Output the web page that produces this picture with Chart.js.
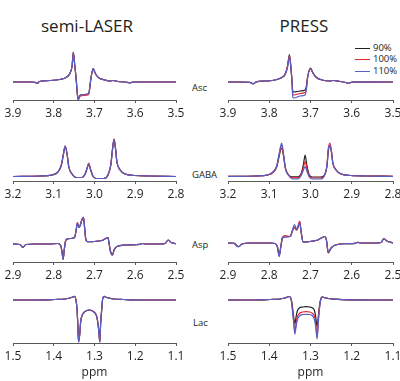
<!DOCTYPE html>
<html>
<head>
<meta charset="utf-8">
<script src="https://cdn.jsdelivr.net/npm/chart.js@4.4.1/dist/chart.umd.min.js"></script>
<style>
  html, body { margin: 0; padding: 0; background: #fff; }
  body { position: relative; width: 400px; height: 381px; overflow: hidden; font-family: 'Open Sans', sans-serif; color: #231f20; }
  canvas { position: absolute; }
  .title { position: absolute; font-size: 17px; line-height: 17px; transform: translateX(-50%); white-space: nowrap; }
  .met { position: absolute; font-size: 9.5px; line-height: 10px; white-space: nowrap; }
  .leg { position: absolute; left: 355px; font-size: 9.5px; line-height: 10px; white-space: nowrap; }
  .leg span { display: inline-block; width: 15px; height: 1px; vertical-align: middle; margin-right: 3px; }
</style>
</head>
<body>
<div class="title" style="left:87px;top:17px;">semi-LASER</div>
<div class="title" style="left:304px;top:17px;">PRESS</div>

<div class="leg" style="top:43px;"><span style="background:#231f20"></span>90%</div>
<div class="leg" style="top:54px;"><span style="background:#e8262d"></span>100%</div>
<div class="leg" style="top:66px;"><span style="background:#5560c8"></span>110%</div>

<div class="met" style="left:192px;top:83px;">Asc</div>
<div class="met" style="left:192px;top:170px;">GABA</div>
<div class="met" style="left:192px;top:240px;">Asp</div>
<div class="met" style="left:193px;top:318px;">Lac</div>

<canvas id="ascSL" width="195" height="79" style="left:0;top:45px"></canvas>
<canvas id="ascPR" width="210" height="79" style="left:200px;top:45px"></canvas>
<canvas id="gabaSL" width="195" height="75" style="left:0;top:130px"></canvas>
<canvas id="gabaPR" width="210" height="75" style="left:200px;top:130px"></canvas>
<canvas id="aspSL" width="195" height="76" style="left:0;top:210px"></canvas>
<canvas id="aspPR" width="210" height="76" style="left:200px;top:210px"></canvas>
<canvas id="lacSL" width="195" height="94" style="left:0;top:290px"></canvas>
<canvas id="lacPR" width="210" height="94" style="left:200px;top:290px"></canvas>

<script>
// flip angle scaling (legend)
const seriesLabels = ['90%', '100%', '110%'];
const seriesColors = ['#231f20', '#e8262d', '#5560c8'];

// Asc, semi-LASER (ppm / amplitude a.u.)
const ascSLPpm = [3.900,3.858,3.846,3.841,3.835,3.809,3.785,3.772,3.765,3.760,3.755,3.752,3.749,3.745,3.742,3.740,3.736,3.726,3.716,3.713,3.710,3.707,3.703,3.699,3.694,3.687,3.674,3.662,3.655,3.642,3.625,3.613,3.603,3.500];
const ascSL90  = [0,0,-0.3,-1.5,0.5,1.5,2.5,4,6,9,16,30,19,3,-12,-17.5,-13.5,-12.5,-12,-9.5,0,8,13.5,9.5,6,3.5,2,1,1.5,0.5,0,-0.8,0,0];
const ascSL100 = [0,0,-0.3,-1.5,0.5,1.5,2.5,4,6,9,16,29.5,19,3,-12.5,-18,-14.5,-13.5,-13,-10.5,0,8,13.5,9.5,6,3.5,2,1,1.5,0.5,0,-0.8,0,0];
const ascSL110 = [0,0,-0.3,-1.5,0.5,1.5,2.5,4,6,9,16,29,19,3,-12,-17.5,-13.5,-12.5,-12,-9.5,0,8,13.5,9.5,6,3.5,2,1,1.5,0.5,0,-0.8,0,0];

// Asc, PRESS
const ascPRPpm = [3.900,3.871,3.847,3.839,3.832,3.810,3.786,3.772,3.762,3.756,3.751,3.748,3.745,3.743,3.740,3.725,3.713,3.710,3.707,3.700,3.694,3.687,3.672,3.653,3.645,3.628,3.614,3.609,3.599,3.500];
const ascPR90  = [0,0,-0.3,-1.8,0,1,2,4,7.5,15,27.5,17,2,-9,-10,-9,-8,-4,5,14,9,5,2,1,1.5,0.5,-0.5,-1.3,-0.2,0];
const ascPR100 = [0,0,-0.3,-1.8,0,1,2,4,7.5,15,26.5,17,2,-12,-13,-11.5,-10.5,-6,5,13.5,9,5,2,1,1.5,0.5,-0.5,-1.3,-0.2,0];
const ascPR110 = [0,0,-0.3,-1.8,0,1,2,4,7,14,25.5,16,1,-15,-16,-14,-13,-8,4,13,9,5,2,1,1.5,0.5,-0.5,-1.3,-0.2,0];

// GABA, semi-LASER
const gabaSLPpm = [3.200,3.134,3.104,3.090,3.082,3.077,3.072,3.067,3.063,3.055,3.045,3.031,3.023,3.018,3.014,3.010,3.004,2.996,2.977,2.967,2.960,2.956,2.952,2.948,2.945,2.937,2.925,2.901,2.864,2.800];
const gabaSL90  = [-0.5,0,1,4,10,20,30,21,9,2,-1.5,-1.5,2,8,12,7,0,-2.5,-2.5,1,11,26,37,26,14,6,2,0.5,0,-0.5];
const gabaSL100 = [-0.5,0,1,4,10,20,30,21,9,2,-1.5,-1.5,2,8,13,7,0,-2.5,-2.5,1,11,26,37,26,14,6,2,0.5,0,-0.5];
const gabaSL110 = [-0.5,0,1,4,10,20,30,21,9,2,-1.5,-1.5,2,8,12,7,0,-2.5,-2.5,1,11,26,36.5,26,14,6,2,0.5,0,-0.5];

// GABA, PRESS
const gabaPRPpm = [3.200,3.134,3.104,3.090,3.082,3.077,3.070,3.065,3.061,3.053,3.043,3.030,3.022,3.017,3.013,3.009,3.003,2.995,2.976,2.966,2.960,2.957,2.953,2.949,2.946,2.938,2.926,2.902,2.865,2.800];
const gabaPR90  = [-0.3,0,1,4,9,18,28,19,8,1,-0.8,-0.8,3,12,21,11,1,-1,-1,1,10,24,30,23,13,6,2,0.5,0,-0.3];
const gabaPR100 = [-0.3,0,1,4,9.5,19,31,20,8,1,-1.8,-1.8,2,9,14.5,8,0,-2,-2,1,11,27,33,25,14,6,2,0.5,0,-0.3];
const gabaPR110 = [-0.5,0,1,4.5,10,20,33,21,8,0.5,-3,-3,1,6,9.5,5,-1,-3,-3,0.5,11,26,31,24,13,6,2,0.5,0,-0.5];

// Asp, semi-LASER
const aspSLPpm = [2.900,2.883,2.876,2.868,2.846,2.809,2.790,2.783,2.780,2.777,2.774,2.771,2.767,2.758,2.749,2.745,2.742,2.738,2.734,2.732,2.727,2.724,2.721,2.717,2.699,2.682,2.667,2.664,2.661,2.656,2.652,2.645,2.625,2.588,2.583,2.576,2.539,2.527,2.519,2.512,2.500];
const aspSL90  = [0,-0.5,-3.3,-0.5,0,0,0.5,-1.5,-7,-15.3,-5,3,5,5.5,6.5,14,21,16.5,20,23,26.7,15,4,2.3,2.5,3.5,6.3,0,-7,-11,-6,-2.5,-1,-0.3,0.5,0,0,0.5,4,1.5,0.3];
const aspSL100 = [0,-0.5,-3.3,-0.5,0,0,0.5,-1.5,-7,-15.3,-5,3,5,5.5,6.5,14,21.5,16.5,19.5,23,26.7,15,4,2.3,2.5,3.5,6.3,0,-7,-11,-6,-2.5,-1,-0.3,0.5,0,0,0.5,4,1.5,0.3];
const aspSL110 = [0,-0.5,-3.3,-0.5,0,0,0.5,-1.5,-7,-15.3,-5,3,5,5.5,6.5,14,21,16.5,20,23,26.7,15,4,2.3,2.5,3.5,6.3,0,-7,-11,-6,-2.5,-1,-0.3,0.5,0,0,0.5,4,1.5,0.3];

// Asp, PRESS
const aspPRPpm = [2.900,2.885,2.875,2.866,2.847,2.798,2.786,2.780,2.776,2.772,2.768,2.762,2.749,2.744,2.739,2.733,2.730,2.726,2.723,2.718,2.701,2.682,2.665,2.661,2.657,2.650,2.641,2.616,2.592,2.585,2.578,2.544,2.529,2.522,2.515,2.500];
const aspPR90  = [0,-0.3,-3.7,-1,0,0,-0.5,-4,-12.3,-4,5,6,6.5,12,16,13,16,21,12,1,1.5,3,6.5,2,-10,-5,-2.3,-0.7,-0.3,0.7,0,0,0.5,4.5,2,0];
const aspPR100 = [0,-0.3,-3.7,-1,0,0,-0.5,-4,-13,-4,6,7.5,6.5,12,15,13,17,22,12,1,1.5,3,6.5,2,-9.5,-5,-2.3,-0.7,-0.3,0.7,0,0,0.5,4.5,2,0];
const aspPR110 = [0,-0.3,-3.7,-1,0,0,-0.5,-4.5,-13.7,-4,5,6,6.5,12.5,18.5,13.5,17,20,12,1,1.5,3,6.5,2,-9,-5,-2.3,-0.7,-0.3,0.7,0,0,0.5,4.5,2,0];

// Lac, semi-LASER
const lacSLPpm = [1.500,1.434,1.397,1.372,1.360,1.353,1.349,1.346,1.343,1.341,1.339,1.336,1.334,1.331,1.326,1.320,1.313,1.306,1.300,1.295,1.292,1.289,1.287,1.285,1.282,1.280,1.276,1.273,1.265,1.253,1.229,1.192,1.100];
const lacSL90  = [0,0,0.5,1,2,3,3.7,1,-8,-24,-42,-33,-22,-16,-12.5,-10.7,-10,-10.7,-12.5,-16,-22,-33,-42,-24,-8,1,3.7,3,2,1,0.5,0,0];
const lacSL100 = [0,0,0.5,1,2,3,3.7,1,-8,-24,-42,-33,-22,-16,-12.5,-10.7,-10,-10.7,-12.5,-16,-22,-33,-42,-24,-8,1,3.7,3,2,1,0.5,0,0];
const lacSL110 = [0,0,0.5,1,2,3,3.7,1,-8,-24,-42,-33,-22,-16,-12.5,-10.7,-10,-10.7,-12.5,-16,-22,-33,-42,-24,-8,1,3.7,3,2,1,0.5,0,0];

// Lac, PRESS
const lacPRPpm = [1.500,1.435,1.398,1.374,1.362,1.355,1.351,1.347,1.344,1.341,1.338,1.335,1.332,1.327,1.319,1.311,1.302,1.295,1.290,1.287,1.284,1.281,1.278,1.275,1.272,1.267,1.258,1.241,1.204,1.100];
const lacPR90  = [0,0,0.5,1,2,3,3.5,1,-6,-16,-24,-17,-11,-8,-7,-6.7,-7,-8,-11,-18,-26.7,-16,-5,1,3,2.5,1.5,0.8,0.2,0];
const lacPR100 = [0,0,0.5,1,2,3,3.5,1,-8,-20,-31.7,-24,-17,-13.5,-12,-11.7,-12,-13.5,-17,-25,-36.7,-20,-7,1,3,2.5,1.5,0.8,0.2,0];
const lacPR110 = [0,0,0.5,1,2,3,3.5,1,-10,-22,-34.3,-27,-20,-16,-14.5,-14.3,-14.5,-16,-20,-28,-39,-22,-8,1,3,2.5,1.5,0.8,0.2,0];

const axisColor = '#58595b';
const textColor = '#231f20';

// one small spectrum panel; ppm axis runs right-to-left
function makePanel(id, ppmHi, ppmLo, ppm, series, yMin, yMax, padL, padR, axisH, showPpm) {
  const datasets = series.map((vals, i) => ({
    label: seriesLabels[i],
    data: ppm.map((p, k) => ({ x: p, y: vals[k] })),
    borderColor: seriesColors[i],
    borderWidth: 1.2,
    pointRadius: 0,
    fill: false,
    cubicInterpolationMode: 'monotone',
    order: 2 - i // 110% drawn on top
  }));

  return new Chart(document.getElementById(id).getContext('2d'), {
    type: 'line',
    data: { datasets: datasets },
    options: {
      responsive: false,
      animation: false,
      layout: { padding: { left: padL, right: padR, top: 0, bottom: 0 } },
      plugins: { legend: { display: false }, tooltip: { enabled: false } },
      scales: {
        x: {
          type: 'linear',
          reverse: true,
          min: ppmLo,
          max: ppmHi,
          border: { display: true, color: axisColor, width: 1 },
          grid: { display: true, drawOnChartArea: false, drawTicks: true, tickLength: 3, color: axisColor },
          ticks: {
            stepSize: 0.1,
            autoSkip: false,
            maxRotation: 0,
            padding: 3,
            color: textColor,
            font: { family: 'Open Sans', size: 12 },
            callback: v => v.toFixed(1)
          },
          title: {
            display: showPpm,
            text: 'ppm',
            color: textColor,
            font: { family: 'Open Sans', size: 12 },
            padding: { top: 0, bottom: 4 }
          },
          afterFit: s => { s.height = axisH; }
        },
        y: { display: false, min: yMin, max: yMax }
      }
    }
  });
}

makePanel('ascSL', 3.9, 3.5, ascSLPpm, [ascSL90, ascSL100, ascSL110], -18, 37, 13, 19, 24, false);
makePanel('ascPR', 3.9, 3.5, ascPRPpm, [ascPR90, ascPR100, ascPR110], -18, 37, 28, 17, 24, false);
makePanel('gabaSL', 3.2, 2.8, gabaSLPpm, [gabaSL90, gabaSL100, gabaSL110], -5, 46, 13, 19, 24, false);
makePanel('gabaPR', 3.2, 2.8, gabaPRPpm, [gabaPR90, gabaPR100, gabaPR110], -5, 46, 28, 17, 24, false);
makePanel('aspSL', 2.9, 2.5, aspSLPpm, [aspSL90, aspSL100, aspSL110], -18, 34, 13, 19, 24, false);
makePanel('aspPR', 2.9, 2.5, aspPRPpm, [aspPR90, aspPR100, aspPR110], -19, 33, 28, 17, 24, false);
makePanel('lacSL', 1.5, 1.1, lacSLPpm, [lacSL90, lacSL100, lacSL110], -43, 10, 13, 19, 41, true);
makePanel('lacPR', 1.5, 1.1, lacPRPpm, [lacPR90, lacPR100, lacPR110], -43, 10, 28, 17, 41, true);
</script>
</body>
</html>
